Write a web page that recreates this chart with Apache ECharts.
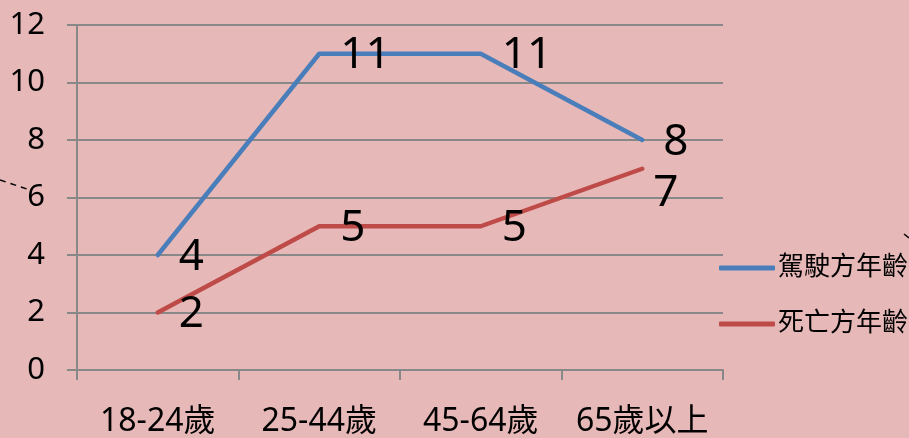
<!DOCTYPE html>
<html><head><meta charset="utf-8">
<script src="https://cdn.jsdelivr.net/npm/echarts@6/dist/echarts.min.js"></script>
<style>html,body{margin:0;padding:0;background:#e6b8b7;}#c{width:909px;height:438px;}</style>
</head><body><div id="c"></div>
<script>
var categories = ['18-24歲', '25-44歲', '45-64歲', '65歲以上'];
var driverAge = [4, 11, 11, 8];
var deathAge = [2, 5, 5, 7];
var seriesNames = ['駕駛方年齡', '死亡方年齡'];
var yTicks = { min: 0, max: 12, interval: 2 };

var FONT = '"Noto Sans", "Noto Sans CJK TC", sans-serif';
var labelBase = { show: true, position: 'right', distance: 20, fontSize: 44, color: '#000', fontFamily: FONT, offset: [0, 2] };

function mk(values, lastOffset) {
  return values.map(function (v, i) {
    var d = { value: v };
    if (lastOffset && i === values.length - 1) d.label = { offset: lastOffset };
    return d;
  });
}

var chart = echarts.init(document.getElementById('c'));
chart.setOption({
  backgroundColor: '#e6b8b7',
  animation: false,
  textStyle: { fontFamily: FONT },
  grid: { left: 77, right: 186, top: 25, bottom: 68 },
  legend: {
    orient: 'vertical', left: 714, top: 250, itemGap: 30,
    itemWidth: 56, itemHeight: 5,
    icon: 'roundRect',
    textStyle: { fontSize: 26, color: '#000', fontFamily: FONT, padding: [0, 0, 0, -2] },
    data: seriesNames
  },
  xAxis: {
    type: 'category', data: categories, boundaryGap: true,
    axisLine: { lineStyle: { color: '#888888', width: 2 } },
    axisTick: { show: true, interval: 0, length: 10, lineStyle: { color: '#888888', width: 2 } },
    axisLabel: { interval: 0, fontSize: 32, color: '#000', margin: 36, fontFamily: FONT }
  },
  yAxis: {
    type: 'value', min: yTicks.min, max: yTicks.max, interval: yTicks.interval,
    axisLine: { show: true, lineStyle: { color: '#888888', width: 2 } },
    axisTick: { show: true, length: 10, lineStyle: { color: '#888888', width: 2 } },
    splitLine: { lineStyle: { color: '#888888', width: 2 } },
    axisLabel: { fontSize: 31, color: '#000', margin: 32, fontFamily: FONT }
  },
  series: [
    { name: seriesNames[0], type: 'line', data: mk(driverAge), symbol: 'circle', symbolSize: 2, showSymbol: true,
      lineStyle: { color: '#4a7ebb', width: 4.5, cap: 'round', join: 'round' }, itemStyle: { color: '#4a7ebb' },
      label: labelBase },
    { name: seriesNames[1], type: 'line', data: mk(deathAge, [-10, 25]), symbol: 'circle', symbolSize: 2, showSymbol: true,
      lineStyle: { color: '#be4b48', width: 4.5, cap: 'round', join: 'round' }, itemStyle: { color: '#be4b48' },
      label: labelBase }
  ],
  graphic: [
    { type: 'line', shape: { x1: 0, y1: 180, x2: 30, y2: 190 }, style: { stroke: '#000', lineWidth: 1.5, lineDash: [6, 5] } },
    { type: 'line', shape: { x1: 904, y1: 234, x2: 909, y2: 238 }, style: { stroke: '#000', lineWidth: 1.5 } }
  ]
});
</script></body></html>
